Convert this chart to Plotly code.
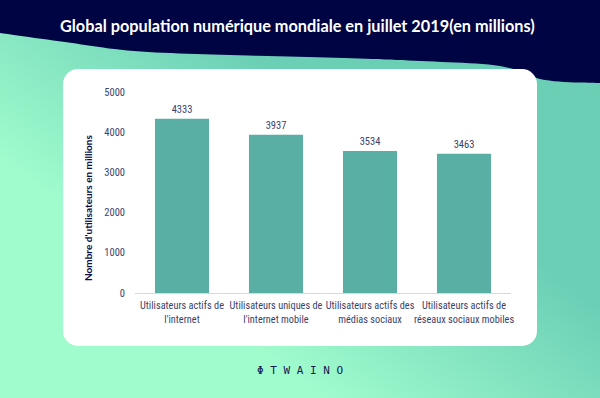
import base64
import plotly.graph_objects as go

# ---- data ----
categories = [
    "Utilisateurs actifs de<br>l'internet",
    "Utilisateurs uniques de<br>l'internet mobile",
    "Utilisateurs actifs des<br>médias sociaux",
    "Utilisateurs actifs de<br>réseaux sociaux mobiles",
]
values = [4333, 3937, 3534, 3463]
y_ticks = [0, 1000, 2000, 3000, 4000, 5000]

title_text = "Global population numérique mondiale en juillet 2019(en millions)"
y_title = "Nombre d'utilisateurs en millions"
logo_text = "Φ T W A I N O"

# ---- layout geometry ----
W, H = 600, 398
L, R, T, B = 135, 89, 92, 105
PW, PH = W - L - R, H - T - B

NAVY = "#000442"
TEXT = "#3b3f6e"
BAR = "#5aafa5"

def px_x(px):
    return (px - L) / PW

def px_y(py):
    return (H - B - py) / PH

# smooth wave edge (Catmull-Rom through a few points)
wave_pts = [(-10, 31), (0, 33), (65, 42), (134, 51), (230, 55), (344, 58),
            (421, 61), (500, 66), (545, 80), (600, 83), (610, 83)]

def catmull(pts, n=12):
    out = []
    for i in range(1, len(pts) - 2):
        p0, p1, p2, p3 = pts[i - 1], pts[i], pts[i + 1], pts[i + 2]
        for k in range(n):
            t = k / n
            t2, t3 = t * t, t * t * t
            x = 0.5 * ((2 * p1[0]) + (-p0[0] + p2[0]) * t + (2 * p0[0] - 5 * p1[0] + 4 * p2[0] - p3[0]) * t2 + (-p0[0] + 3 * p1[0] - 3 * p2[0] + p3[0]) * t3)
            y = 0.5 * ((2 * p1[1]) + (-p0[1] + p2[1]) * t + (2 * p0[1] - 5 * p1[1] + 4 * p2[1] - p3[1]) * t2 + (-p0[1] + 3 * p1[1] - 3 * p2[1] + p3[1]) * t3)
            out.append((x, y))
    out.append(pts[-2])
    return out

edge = catmull(wave_pts)
wave_d = "M0,0 L600,0 " + " ".join(f"L{x:.1f},{y:.1f}" for x, y in reversed(edge)) + " Z"

svg = f'''<svg xmlns="http://www.w3.org/2000/svg" width="{W}" height="{H}" viewBox="0 0 {W} {H}">
<defs>
<linearGradient id="g" gradientUnits="userSpaceOnUse" x1="190" y1="300" x2="330" y2="110">
<stop offset="0" stop-color="#a0fccd"/>
<stop offset="1" stop-color="#6bcfb6"/>
</linearGradient>
</defs>
<rect x="0" y="0" width="{W}" height="{H}" fill="url(#g)"/>
<path d="{wave_d}" fill="{NAVY}"/>
<rect x="63" y="69" width="474" height="277" rx="15" ry="15" fill="#ffffff"/>
</svg>'''
svg_uri = "data:image/svg+xml;base64," + base64.b64encode(svg.encode("utf-8")).decode("ascii")

tick_font = "Roboto Condensed, DejaVu Sans Condensed, sans-serif"

fig = go.Figure(
    go.Bar(
        x=categories,
        y=values,
        marker=dict(color=BAR, line=dict(width=0)),
        text=[str(v) for v in values],
        textposition="outside",
        textfont=dict(family=tick_font, size=10.5, color=TEXT),
        cliponaxis=False,
        width=0.575,
    )
)

fig.update_layout(
    width=W,
    height=H,
    margin=dict(l=L, r=R, t=T, b=B, pad=0),
    paper_bgcolor="rgba(0,0,0,0)",
    plot_bgcolor="rgba(0,0,0,0)",
    showlegend=False,
    images=[dict(
        source=svg_uri, xref="paper", yref="paper",
        x=px_x(0), y=px_y(0), sizex=W / PW, sizey=H / PH,
        xanchor="left", yanchor="top", sizing="stretch", layer="below",
    )],
    xaxis=dict(
        showline=True, linecolor="#d9d9d9", linewidth=1,
        showgrid=False, zeroline=False, ticks="", tickangle=0,
        ticklabelstandoff=3,
        tickfont=dict(family=tick_font, size=10.3, color=TEXT),
    ),
    yaxis=dict(
        range=[0, 5000], tickvals=y_ticks,
        showgrid=False, zeroline=False, showline=False, ticks="",
        ticklabelstandoff=9,
        tickfont=dict(family=tick_font, size=10.5, color=TEXT),
    ),
    annotations=[
        dict(text=f"<b>{title_text}</b>", xref="paper", yref="paper",
             x=px_x(297), y=px_y(25), showarrow=False,
             xanchor="center", yanchor="middle",
             font=dict(family="Lato, Open Sans, sans-serif", size=16.3, color="#ffffff")),
        dict(text=f"<b>{y_title}</b>", xref="paper", yref="paper",
             x=px_x(88), y=px_y(208), showarrow=False, textangle=-90,
             xanchor="center", yanchor="middle",
             font=dict(family="Lato, Open Sans, sans-serif", size=10, color="#0b0d48")),
        dict(text=logo_text, xref="paper", yref="paper",
             x=px_x(300), y=px_y(370), showarrow=False,
             xanchor="center", yanchor="middle",
             font=dict(family="DejaVu Sans Mono, monospace", size=11, color="#141a4e")),
    ],
)

fig.write_html("out.html", config={"displayModeBar": False},
               post_script="document.body.style.margin='0';")
